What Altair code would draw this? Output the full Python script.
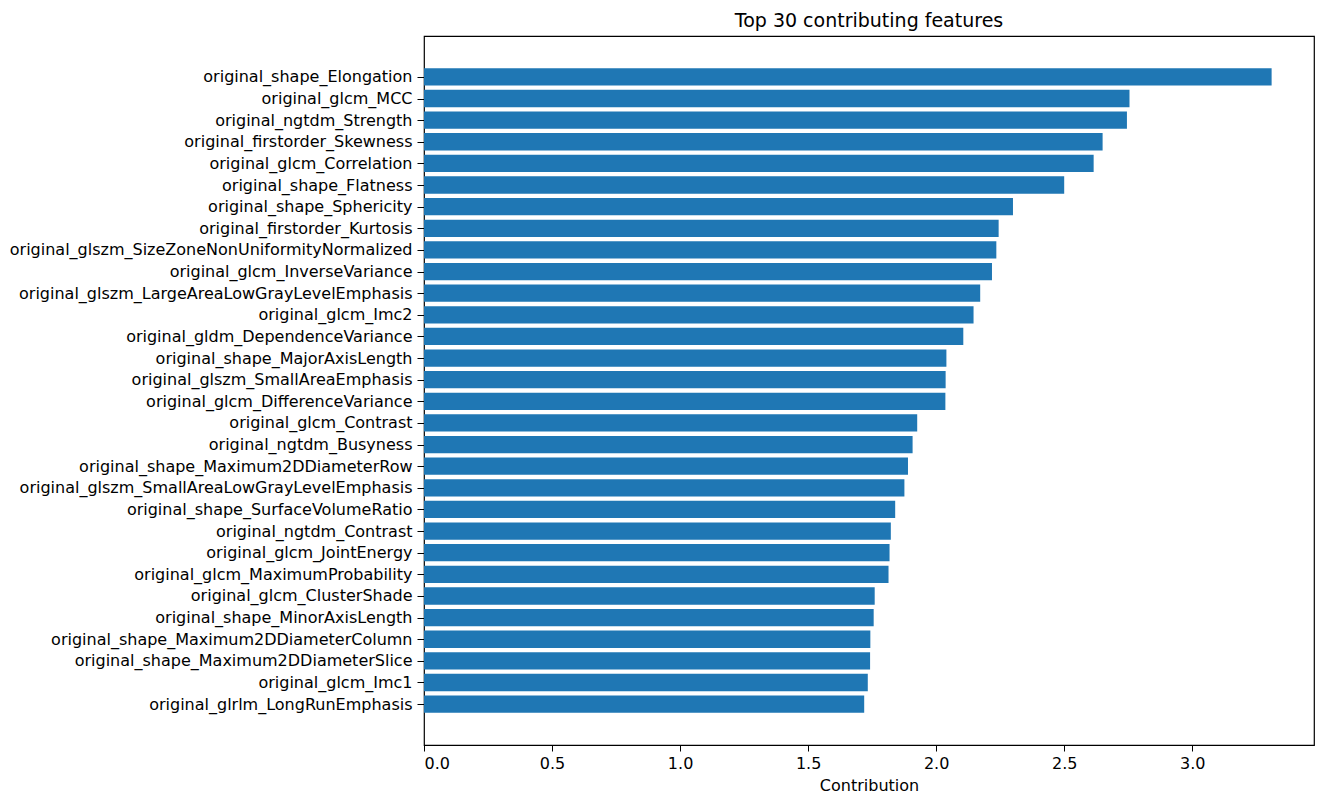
import json
import altair as alt
import pandas as pd

features = [
    "original_shape_Elongation",
    "original_glcm_MCC",
    "original_ngtdm_Strength",
    "original_firstorder_Skewness",
    "original_glcm_Correlation",
    "original_shape_Flatness",
    "original_shape_Sphericity",
    "original_firstorder_Kurtosis",
    "original_glszm_SizeZoneNonUniformityNormalized",
    "original_glcm_InverseVariance",
    "original_glszm_LargeAreaLowGrayLevelEmphasis",
    "original_glcm_Imc2",
    "original_gldm_DependenceVariance",
    "original_shape_MajorAxisLength",
    "original_glszm_SmallAreaEmphasis",
    "original_glcm_DifferenceVariance",
    "original_glcm_Contrast",
    "original_ngtdm_Busyness",
    "original_shape_Maximum2DDiameterRow",
    "original_glszm_SmallAreaLowGrayLevelEmphasis",
    "original_shape_SurfaceVolumeRatio",
    "original_ngtdm_Contrast",
    "original_glcm_JointEnergy",
    "original_glcm_MaximumProbability",
    "original_glcm_ClusterShade",
    "original_shape_MinorAxisLength",
    "original_shape_Maximum2DDiameterColumn",
    "original_shape_Maximum2DDiameterSlice",
    "original_glcm_Imc1",
    "original_glrlm_LongRunEmphasis",
]

contributions = [
    3.31, 2.755, 2.745, 2.65, 2.615, 2.50, 2.30, 2.244, 2.235, 2.218,
    2.172, 2.146, 2.106, 2.040, 2.037, 2.036, 1.926, 1.908, 1.890, 1.876,
    1.840, 1.823, 1.818, 1.814, 1.760, 1.756, 1.743, 1.742, 1.733, 1.719,
]

x_ticks = [0.0, 0.5, 1.0, 1.5, 2.0, 2.5, 3.0]

df = pd.DataFrame({"feature": features, "contribution": contributions})
df["rank"] = range(len(features))

FONT = "DejaVu Sans"
LABEL_SIZE = 16
n = len(features)
label_expr = json.dumps(features) + "[datum.value]"

chart = (
    alt.Chart(df)
    .transform_calculate(lo="datum.rank - 0.4", hi="datum.rank + 0.4")
    .mark_bar(color="#1f77b4")
    .encode(
        x=alt.X(
            "contribution:Q",
            title="Contribution",
            scale=alt.Scale(domain=[0, 3.4755], nice=False, zero=True),
            axis=alt.Axis(
                values=x_ticks,
                format=".1f",
                grid=False,
                domain=False,
                tickColor="black",
                tickSize=6,
                labelFontSize=LABEL_SIZE,
                labelColor="black",
                labelPadding=4,
                titleFontSize=LABEL_SIZE,
                titleFontWeight="normal",
                titleColor="black",
                titlePadding=6,
                labelFont=FONT,
                titleFont=FONT,
            ),
        ),
        x2=alt.value(0),
        y=alt.Y(
            "lo:Q",
            title=None,
            scale=alt.Scale(domain=[-1.89, n - 1 + 1.89], nice=False, zero=False, reverse=True),
            axis=alt.Axis(
                values=list(range(n)),
                labelExpr=label_expr,
                grid=False,
                domain=False,
                tickColor="black",
                tickSize=7,
                labelFontSize=LABEL_SIZE,
                labelColor="black",
                labelPadding=5,
                labelFont=FONT,
                labelLimit=0,
                labelOverlap=False,
                labelBaseline="middle",
            ),
        ),
        y2="hi:Q",
    )
    .properties(
        width=890,
        height=709,
        background="white",
        title=alt.TitleParams(
            "Top 30 contributing features",
            font=FONT,
            fontSize=19,
            fontWeight="normal",
            color="black",
            offset=5,
            anchor="middle",
        ),
        autosize=alt.AutoSizeParams(type="none"),
        padding={"left": 416, "top": 28, "right": 1, "bottom": 50},
    )
    .configure_view(stroke="black", strokeWidth=1.2)
)

chart.save("out.html", embed_options={"renderer": "svg", "actions": False})
